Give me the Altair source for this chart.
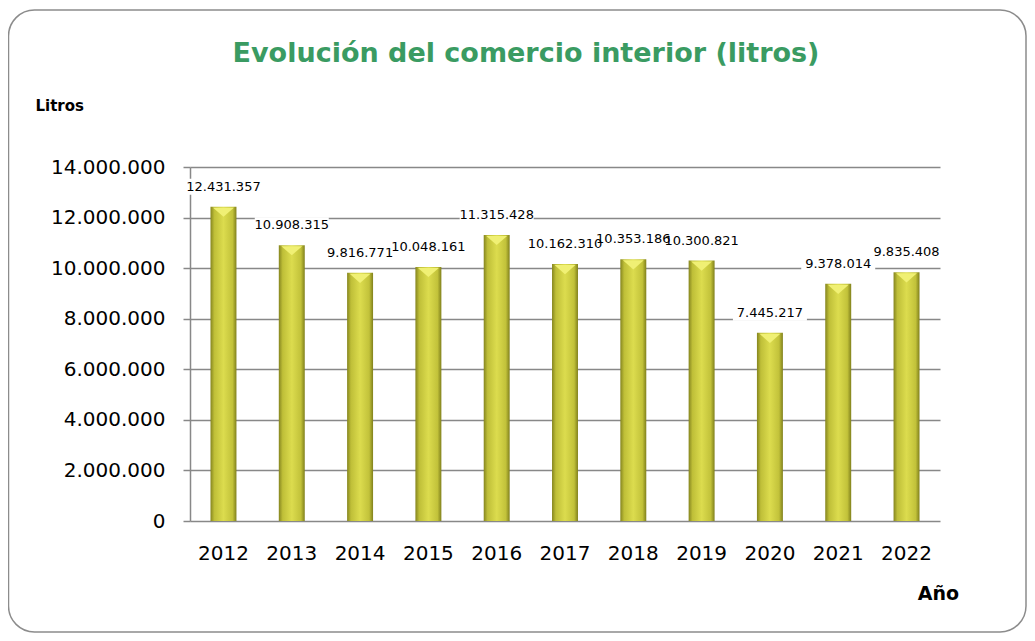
import altair as alt
import pandas as pd

years = ["2012", "2013", "2014", "2015", "2016", "2017", "2018", "2019", "2020", "2021", "2022"]
litros = [12431357, 10908315, 9816771, 10048161, 11315428, 10162310, 10353186, 10300821, 7445217, 9378014, 9835408]
y_ticks = [0, 2000000, 4000000, 6000000, 8000000, 10000000, 12000000, 14000000]
title_text = "Evolución del comercio interior (litros)"

labels = [f"{v:,}".replace(",", ".") for v in litros]
df = pd.DataFrame({"year": years, "litros": litros, "label": labels})

FONT = "DejaVu Sans"

x_enc = alt.X("year:N", sort=years,
              scale=alt.Scale(paddingInner=0.62, paddingOuter=0.3),
              axis=alt.Axis(title="Año", domain=False, ticks=False, labelAngle=0,
                            labelPadding=22, labelFontSize=20, labelFont=FONT, labelColor="#000",
                            titleFont=FONT, titleFontSize=19, titleFontWeight="bold", titleColor="#000",
                            titleX=748, titleY=72, titleAlign="center", titleBaseline="middle"))
y_enc = alt.Y("litros:Q",
              scale=alt.Scale(domain=[0, 14000000], nice=False),
              axis=alt.Axis(title="Litros", values=y_ticks,
                            labelExpr="replace(format(datum.value, ',d'), regexp(',', 'g'), '.')",
                            labelFontSize=20, labelFont=FONT, labelColor="#000", labelPadding=18,
                            tickSize=7, tickColor="#888", tickWidth=1.5,
                            domainColor="#888", domainWidth=1.5,
                            gridColor="#888", gridWidth=1.5,
                            titleAngle=0, titleFont=FONT, titleFontSize=15, titleFontWeight="bold",
                            titleColor="#000", titleX=-155, titleY=-62, titleAlign="left",
                            titleBaseline="middle"))

single = pd.DataFrame({"t": [title_text]})

border = alt.Chart(single).mark_rect(
    fill="white", fillOpacity=0, stroke="#8c8c8c", strokeWidth=1.5, cornerRadius=26
).encode(x=alt.value(-181.5), x2=alt.value(836), y=alt.value(-157), y2=alt.value(465))

title = alt.Chart(single).mark_text(
    font=FONT, fontSize=27, fontWeight="bold", color="#3a9b62", align="center", baseline="middle"
).encode(x=alt.value(336), y=alt.value(-113), text="t:N")

bar_grad = alt.Gradient(
    gradient="linear", x1=0, x2=1, y1=0, y2=0,
    stops=[
        alt.GradientStop(offset=0, color="#85851f"),
        alt.GradientStop(offset=0.15, color="#bfbf38"),
        alt.GradientStop(offset=0.5, color="#dcdc4e"),
        alt.GradientStop(offset=0.85, color="#c2c23a"),
        alt.GradientStop(offset=1, color="#80801c"),
    ],
)

base = alt.Chart(df)
bars = base.mark_bar(color=bar_grad).encode(x=x_enc, y=y_enc)

wedge = base.mark_point(
    shape="M-0.85,0L0.85,0L0,0.75Z", filled=True, color="#f0f074", opacity=1,
    size=600, yOffset=1
).encode(x=alt.X("year:N", sort=years), y="litros:Q")

boxes = base.mark_tick(color="white", opacity=1, size=74, thickness=16, yOffset=-20).encode(
    x=alt.X("year:N", sort=years), y="litros:Q")

texts = base.mark_text(font=FONT, fontSize=13, color="#000", dy=-20, baseline="middle").encode(
    x=alt.X("year:N", sort=years), y="litros:Q", text="label:N")

chart = alt.layer(border, title, bars, wedge, boxes, texts).properties(
    width=750, height=354,
    padding={"left": 182, "top": 159, "right": 87, "bottom": 112},
    autosize=alt.AutoSizeParams(type="none"),
).configure_view(stroke=None)

chart.save("out.html", embed_options={"renderer": "svg", "actions": False})
